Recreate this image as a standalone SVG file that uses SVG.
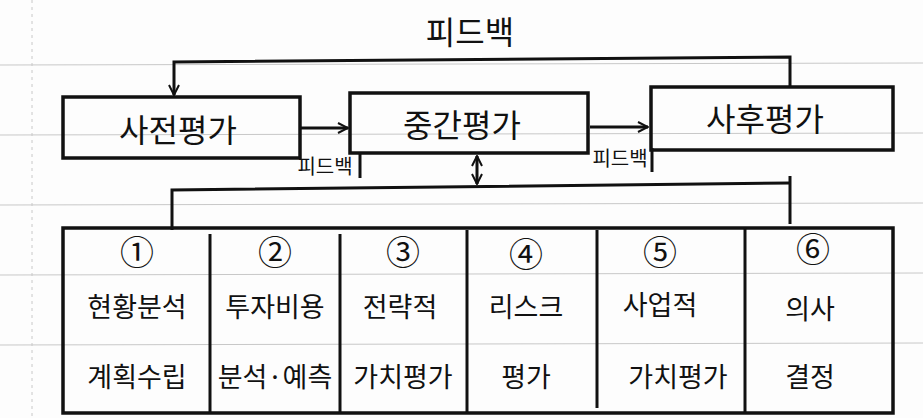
<svg xmlns="http://www.w3.org/2000/svg" width="923" height="418" viewBox="0 0 923 418">
<defs>
<style>
.bg{fill:#fdfdfd}
.rule{stroke:#c8c8c8;stroke-width:1;fill:none}
.box{fill:none;stroke:#111;stroke-width:3.5}
.ln{fill:none;stroke:#111;stroke-width:3}
.t{font-family:"Noto Sans CJK KR","Noto Sans",sans-serif;fill:#111;text-anchor:middle;dominant-baseline:central}
.big{font-size:32px}
.mid{font-size:27px}
.num{font-size:34px}
.sm{font-size:20px}
</style>
<marker id="ah" viewBox="0 0 12 12" refX="11" refY="6" markerWidth="12" markerHeight="12" markerUnits="userSpaceOnUse" orient="auto-start-reverse">
<path d="M1,1 L11,6 L1,11" fill="none" stroke="#111" stroke-width="2"/>
</marker>
</defs>
<rect class="bg" x="0" y="0" width="923" height="418"/>
<g id="rules">
<line class="rule" x1="0" y1="65" x2="923" y2="63"/>
<line class="rule" x1="0" y1="135" x2="923" y2="133"/>
<line class="rule" x1="0" y1="205" x2="923" y2="203"/>
<line class="rule" x1="0" y1="275" x2="923" y2="273"/>
<line class="rule" x1="0" y1="345" x2="923" y2="343"/>
<line class="rule" x1="32" y1="0" x2="32" y2="418" stroke-dasharray="3 4"/>
</g>
<text class="t big" x="470" y="30">피드백</text>
<g id="connectors">
<polyline class="ln" points="790,88 790,57 174,62 174,95" marker-end="url(#ah)"/>
<line class="ln" x1="300" y1="128" x2="348" y2="128" marker-end="url(#ah)"/>
<line class="ln" x1="590" y1="127" x2="648" y2="127" marker-end="url(#ah)"/>
<line class="ln" x1="477" y1="156" x2="477" y2="184" marker-start="url(#ah)" marker-end="url(#ah)"/>
<polyline class="ln" points="172,230 172,190 790,183"/>
<line class="ln" x1="790" y1="176" x2="790" y2="224"/>
<line class="ln" x1="360" y1="152" x2="360" y2="178"/>
<line class="ln" x1="652" y1="148" x2="652" y2="172"/>
<text class="t sm" x="325" y="165">피드백</text>
<text class="t sm" x="620" y="157">피드백</text>
</g>
<g id="pre">
<rect class="box" x="63" y="97" width="237" height="61"/>
<text class="t big" x="178" y="128">사전평가</text>
</g>
<g id="mid">
<rect class="box" x="350" y="93" width="238" height="60"/>
<text class="t big" x="462" y="123">중간평가</text>
</g>
<g id="post">
<rect class="box" x="651" y="87" width="242" height="63"/>
<text class="t big" x="765" y="117">사후평가</text>
</g>
<g id="table">
<rect class="box" x="63" y="228" width="830" height="185"/>
<line class="ln" x1="210" y1="234" x2="210" y2="413"/>
<line class="ln" x1="340" y1="234" x2="340" y2="413"/>
<line class="ln" x1="467" y1="230" x2="467" y2="413"/>
<line class="ln" x1="597" y1="230" x2="597" y2="408"/>
<line class="ln" x1="745" y1="228" x2="745" y2="413"/>
</g>
<g id="c1">
<text class="t num" x="137" y="250">①</text>
<text class="t mid" x="137" y="305">현황분석</text>
<text class="t mid" x="137" y="375">계획수립</text>
</g>
<g id="c2">
<text class="t num" x="275" y="250">②</text>
<text class="t mid" x="275" y="305">투자비용</text>
<text class="t mid" x="275" y="375">분석·예측</text>
</g>
<g id="c3">
<text class="t num" x="403" y="250">③</text>
<text class="t mid" x="400" y="305">전략적</text>
<text class="t mid" x="403" y="375">가치평가</text>
</g>
<g id="c4">
<text class="t num" x="526" y="252">④</text>
<text class="t mid" x="526" y="305">리스크</text>
<text class="t mid" x="526" y="375">평가</text>
</g>
<g id="c5">
<text class="t num" x="660" y="250">⑤</text>
<text class="t mid" x="660" y="303">사업적</text>
<text class="t mid" x="678" y="375">가치평가</text>
</g>
<g id="c6">
<text class="t num" x="813" y="247">⑥</text>
<text class="t mid" x="810" y="307">의사</text>
<text class="t mid" x="810" y="375">결정</text>
</g>
</svg>
